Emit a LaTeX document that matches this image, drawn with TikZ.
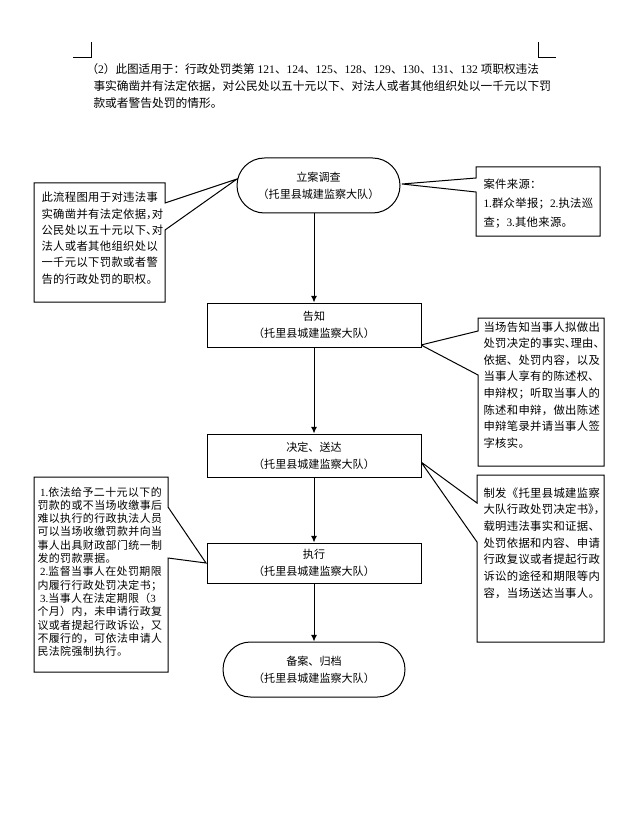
\documentclass[tikz,border=0pt]{standalone}
\usepackage{fontspec}
\setmainfont{Noto Sans CJK SC}
\newfontfamily\lat{Liberation Serif}
\usetikzlibrary{arrows.meta}
\newcommand\hp[1]{\makebox[0.5em][l]{#1}}
\begin{document}
\begin{tikzpicture}[x=0.75pt,y=-0.75pt,
  line width=0.75pt,
  proc/.style={draw, fill=white, align=center, inner sep=0pt, font=\fontsize{8.3}{12.75}\selectfont},
  term/.style={proc, rounded corners=20.6pt},
  callout/.style={draw, fill=white, line join=miter},
  ln/.style={anchor=base west, inner sep=0pt, font=\fontsize{8.5}{10}\selectfont\addfontfeature{LetterSpace=3}},
  lns/.style={anchor=base west, inner sep=0pt, font=\fontsize{8.2}{10}\selectfont\addfontfeature{LetterSpace=4}},
  top/.style={anchor=base west, inner sep=0pt, font=\fontsize{8.8}{10}\selectfont},
  arr/.style={-{Latex[length=5pt,width=4.5pt]}},
  cropmark/.style={line width=0.6pt}
]
\path[use as bounding box] (0,0) rectangle (627,827);
% crop marks
\draw[cropmark] (73,57) -- (91,57) -- (91,42);
\draw[cropmark] (538,42) -- (538,57) -- (556,57);

% top paragraph
\node[top, font=\fontsize{8.7}{10}\selectfont] (t1) at (86,74) {（{\lat 2}）此图适用于：行政处罚类第{\lat\ 121}、{\lat 124}、{\lat 125}、{\lat 128}、{\lat 129}、{\lat 130}、{\lat 131}、{\lat 132\ }项职权违法};
\node[top] (t2) at (93,91) {事实确凿并有法定依据，对公民处以五十元以下、对法人或者其他组织处以一千元以下罚};
\node[top] (t3) at (93,108) {款或者警告处罚的情形。};

% callouts
\draw[callout] (34,183) -- (165,183) -- (165,203) -- (237,179) -- (165,230) -- (165,302) -- (34,302) -- cycle;
\draw[callout] (476,167) -- (600,167) -- (600,236) -- (476,236) -- (476,192) -- (402,184) -- (476,178) -- cycle;
\draw[callout] (478,318) -- (604,318) -- (604,466) -- (478,466) -- (478,375) -- (421,345) -- (478,331) -- cycle;
\draw[callout] (477,475) -- (604,475) -- (604,642) -- (477,642) -- (477,542) -- (421,462) -- (477,503) -- cycle;
\draw[callout] (34,477) -- (168,477) -- (168,507) -- (206,563) -- (168,558) -- (168,672) -- (34,672) -- cycle;

% callout texts
\foreach \s [count=\i] in {此流程图用于对违法事,实确凿并有法定依据\hp{，}对,公民处以五十元以下\hp{、}对,法人或者其他组织处以,一千元以下罚款或者警,告的行政处罚的职权。}
  \node[ln] (a\i) at (41,{202+16.2*(\i-1)}) {\s};

\foreach \s [count=\i] in {案件来源：,{\lat 1.}群众举报；{\lat 2.}执法巡,查；{\lat 3.}其他来源。}
  \node[ln] (b\i) at (483,{189+18.5*(\i-1)}) {\s};

\foreach \s [count=\i] in {当场告知当事人拟做出,处罚决定的事实\hp{、}理由\hp{、},依据、处罚内容，以及,当事人享有的陈述权\hp{、},申辩权；听取当事人的,陈述和申辩，做出陈述,申辩笔录并请当事人签,字核实。}
  \node[ln] (c\i) at (483,{331+16.6*(\i-1)}) {\s};

\foreach \s [count=\i] in {制发《托里县城建监察,大队行政处罚决定书\hp{》}\hp{，},载明违法事实和证据、,处罚依据和内容、申请,行政复议或者提起行政,诉讼的途径和期限等内,容，当场送达当事人。}
  \node[ln] (d\i) at (483,{497+16.7*(\i-1)}) {\s};

\foreach \s [count=\i] in {\hspace{0.25em}{\lat 1.}依法给予二十元以下的,罚款的或不当场收缴事后,难以执行的行政执法人员,可以当场收缴罚款并向当,事人出具财政部门统一制,发的罚款票据。,\hspace{0.25em}{\lat 2.}监督当事人在处罚期限,内履行行政处罚决定书；,\hspace{0.25em}{\lat 3.}当事人在法定期限（{\lat 3},个月）内，未申请行政复,议或者提起行政诉讼，又,不履行的，可依法申请人,民法院强制执行。}
  \node[lns] (e\i) at (37,{496+13.3*(\i-1)}) {\s};

% process nodes
\node[term, minimum width=122.25pt, minimum height=41.25pt] (n1) at (318.5,185.5) {立案调查\\（托里县城建监察大队）};
\node[proc, minimum width=160.5pt, minimum height=33pt] (n2) at (314,325) {告知\\（托里县城建监察大队）};
\node[proc, minimum width=160.5pt, minimum height=32.25pt] (n3) at (314,455.5) {决定、送达\\（托里县城建监察大队）};
\node[proc, minimum width=160.5pt, minimum height=30pt] (n4) at (314,563) {执行\\（托里县城建监察大队）};
\node[term, minimum width=136.5pt, minimum height=41.25pt] (n5) at (314,669.5) {备案、归档\\（托里县城建监察大队）};

% connectors
\draw[arr] (n2.north |- n1.south) -- (n2.north);
\draw[arr] (n2.south) -- (n3.north);
\draw[arr] (n3.south) -- (n4.north);
\draw[arr] (n4.south) -- (n5.north);
\end{tikzpicture}
\end{document}
